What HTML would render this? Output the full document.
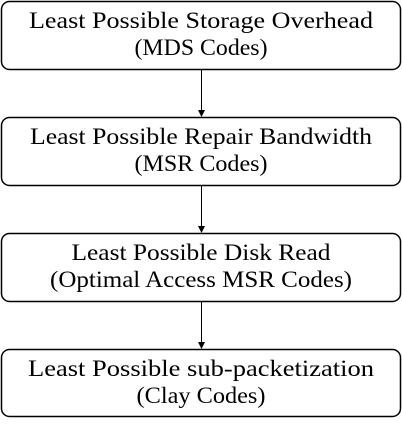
<!DOCTYPE html>
<html><head><style>html,body{margin:0;padding:0;background:#fff;}</style></head><body>
<svg width="402" height="419" xmlns="http://www.w3.org/2000/svg" font-family="'Liberation Serif', serif" font-size="23" text-anchor="middle" fill="#000">
<g fill="none" stroke="#000" stroke-width="1.5">
<rect x="1.5" y="1.5" width="399" height="68" rx="8"/>
<rect x="1.5" y="117.5" width="399" height="68" rx="8"/>
<rect x="1.5" y="233.5" width="399" height="68" rx="8"/>
<rect x="1.5" y="349.5" width="399" height="67" rx="8"/>
<line x1="201.5" y1="70" x2="201.5" y2="112" stroke-width="1"/>
<line x1="201.5" y1="186" x2="201.5" y2="228" stroke-width="1"/>
<line x1="201.5" y1="302" x2="201.5" y2="344" stroke-width="1"/>
</g>
<g fill="#000">
<polygon points="198,110 205,110 201.5,117"/>
<polygon points="198,226 205,226 201.5,233"/>
<polygon points="198,342 205,342 201.5,349"/>
</g>
<text x="201" y="28" textLength="344" lengthAdjust="spacingAndGlyphs">Least Possible Storage Overhead</text>
<text x="201" y="55" textLength="133" lengthAdjust="spacingAndGlyphs">(MDS Codes)</text>
<text x="201" y="144" textLength="342" lengthAdjust="spacingAndGlyphs">Least Possible Repair Bandwidth</text>
<text x="201" y="171" textLength="133" lengthAdjust="spacingAndGlyphs">(MSR Codes)</text>
<text x="201" y="260" textLength="259" lengthAdjust="spacingAndGlyphs">Least Possible Disk Read</text>
<text x="201" y="287" textLength="302" lengthAdjust="spacingAndGlyphs">(Optimal Access MSR Codes)</text>
<text x="201" y="376" textLength="346" lengthAdjust="spacingAndGlyphs">Least Possible sub-packetization</text>
<text x="201" y="403" textLength="129" lengthAdjust="spacingAndGlyphs">(Clay Codes)</text>
</svg>
</body></html>
